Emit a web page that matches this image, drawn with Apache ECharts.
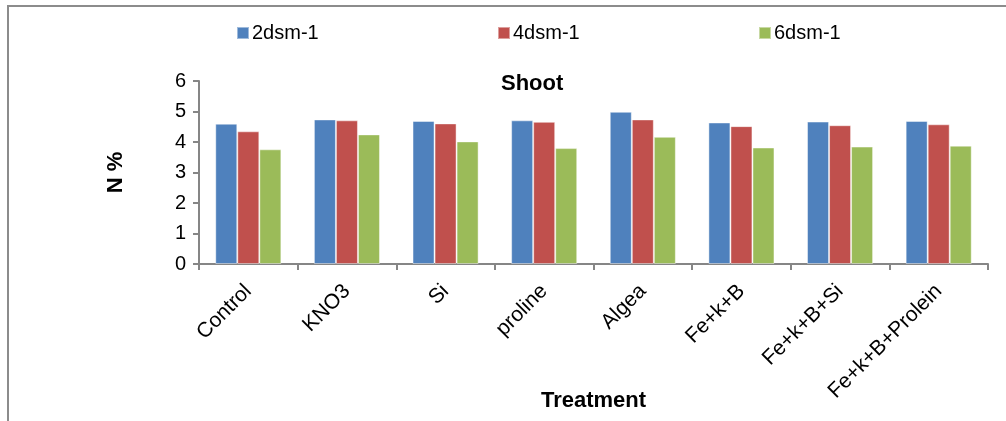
<!DOCTYPE html>
<html>
<head>
<meta charset="utf-8">
<script src="https://cdn.jsdelivr.net/npm/echarts@6/dist/echarts.min.js"></script>
<style>
  html, body { margin: 0; padding: 0; background: #fff; }
  #chart { width: 1006px; height: 421px; }
</style>
</head>
<body>
<div id="chart"></div>
<script>
// Treatments along the x axis
const categories = ['Control', 'KNO3', 'Si', 'proline', 'Algea', 'Fe+k+B', 'Fe+k+B+Si', 'Fe+k+B+Prolein'];
// Shoot N % for each salinity level
const s2dsm = [4.60, 4.74, 4.69, 4.71, 4.99, 4.64, 4.67, 4.69];
const s4dsm = [4.35, 4.71, 4.61, 4.66, 4.74, 4.52, 4.55, 4.58];
const s6dsm = [3.76, 4.25, 4.02, 3.80, 4.17, 3.82, 3.85, 3.88];
const seriesNames = ['2dsm-1', '4dsm-1', '6dsm-1'];
const yTicks = [0, 1, 2, 3, 4, 5, 6];

const colors = ['#4F81BD', '#C0504D', '#9BBB59'];
const font = 'Liberation Sans, Arial, sans-serif';
const axisGray = '#868686';

const chart = echarts.init(document.getElementById('chart'));
const legendLeft = [231, 492, 753];

chart.setOption({
  animation: false,
  textStyle: { fontFamily: font },
  color: colors,
  title: {
    text: 'Shoot',
    left: 496,
    top: 68,
    textStyle: { fontSize: 22, fontWeight: 'bold', color: '#000', fontFamily: font }
  },
  legend: seriesNames.map((n, i) => ({
    data: [n],
    left: legendLeft[i],
    top: 18,
    icon: 'rect',
    itemWidth: 12,
    itemHeight: 12,
    itemGap: 0,
    textStyle: { fontSize: 20, color: '#000', fontFamily: font, padding: [0, 0, 0, -2] }
  })),
  graphic: [{
    type: 'rect',
    shape: { x: 8, y: 6, width: 1100, height: 500 },
    style: { fill: 'none', stroke: '#8c8c8c', lineWidth: 2 },
    silent: true
  }],
  grid: { left: 199, right: 18, top: 81, bottom: 157, containLabel: false, outerBoundsMode: 'none' },
  xAxis: {
    type: 'category',
    data: categories,
    name: 'Treatment',
    nameLocation: 'middle',
    nameGap: 126,
    nameMoveOverlap: false,
    nameTextStyle: { fontSize: 22, fontWeight: 'bold', color: '#000', fontFamily: font },
    axisLine: { lineStyle: { color: axisGray, width: 2 } },
    axisTick: { show: true, length: 6, lineStyle: { color: axisGray, width: 2 } },
    axisLabel: { rotate: 45, fontSize: 21, color: '#000', margin: 24, interval: 0, fontFamily: font }
  },
  yAxis: {
    type: 'value',
    min: yTicks[0],
    max: yTicks[yTicks.length - 1],
    interval: 1,
    name: 'N %',
    nameLocation: 'middle',
    nameGap: 72,
    nameRotate: 90,
    nameMoveOverlap: false,
    nameTextStyle: { fontSize: 22, fontWeight: 'bold', color: '#000', fontFamily: font },
    splitLine: { show: false },
    axisLine: { show: true, lineStyle: { color: axisGray, width: 2 } },
    axisTick: { show: true, length: 6, lineStyle: { color: axisGray, width: 2 } },
    axisLabel: { fontSize: 20, color: '#000', margin: 13, fontFamily: font }
  },
  series: [s2dsm, s4dsm, s6dsm].map((vals, i) => ({
    name: seriesNames[i],
    type: 'bar',
    data: vals,
    barGap: '0%',
    barCategoryGap: '33%',
    itemStyle: { color: colors[i], borderColor: 'rgba(255,255,255,0.45)', borderWidth: 1 }
  }))
});
</script>
</body>
</html>
